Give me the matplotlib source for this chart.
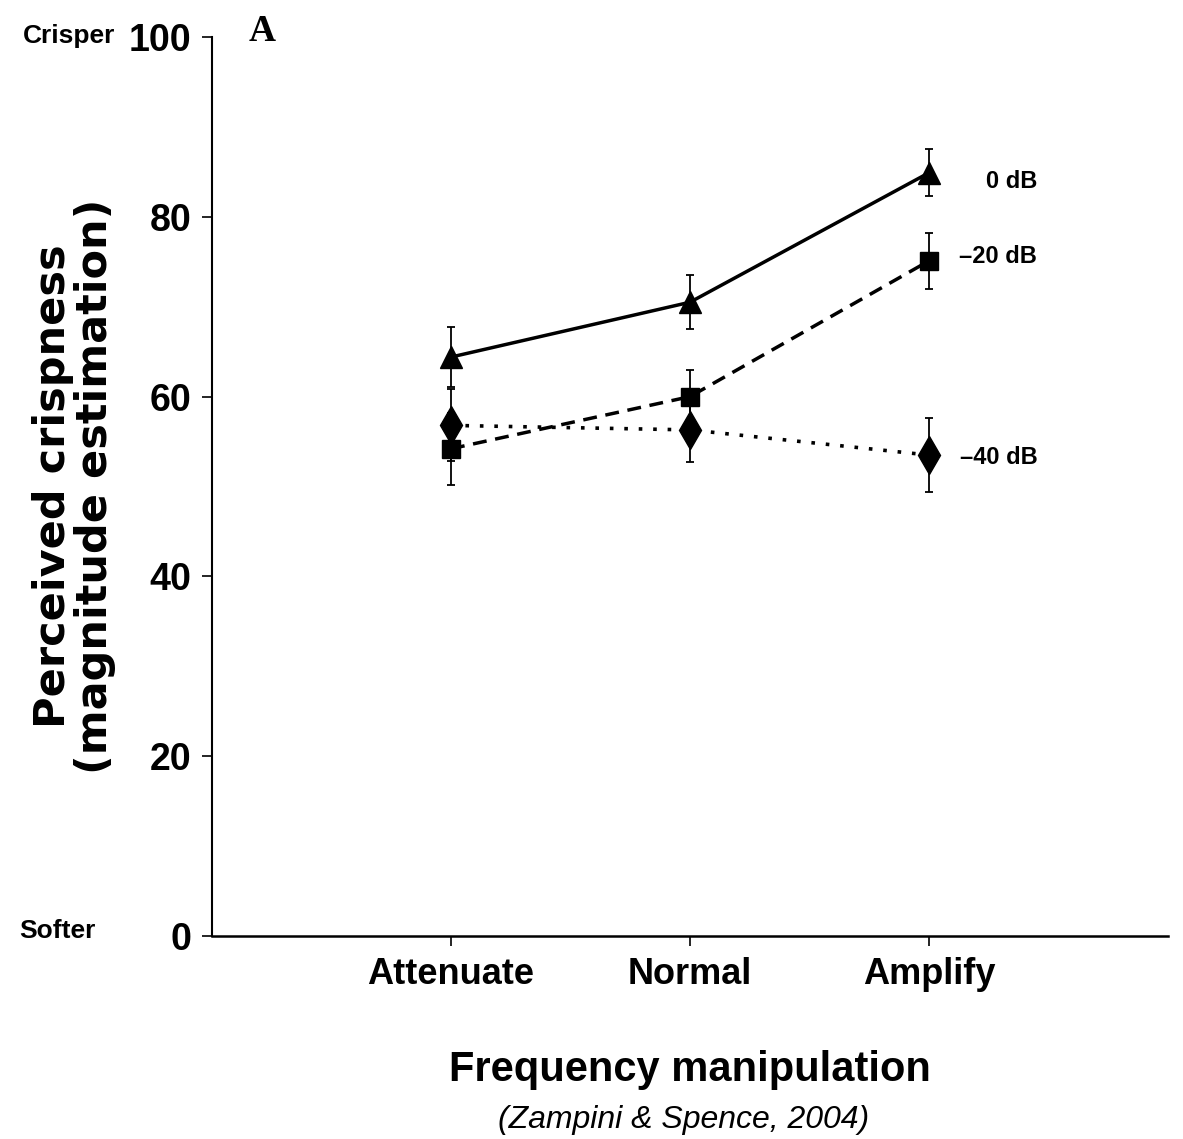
import matplotlib
matplotlib.use("Agg")
import matplotlib.pyplot as plt

# data
conditions = ["Attenuate", "Normal", "Amplify"]
x_pos = [1, 2, 3]

db0 = [64.4, 70.5, 84.9]
db0_err = [3.3, 3.0, 2.6]
db20 = [54.2, 60.0, 75.1]
db20_err = [4.0, 3.0, 3.1]
db40 = [56.8, 56.3, 53.5]
db40_err = [4.0, 3.6, 4.1]

series_labels = ["0 dB", "\u201320 dB", "\u201340 dB"]
label_shift = [-6, 3, -2]  # small vertical nudge of the end labels, points
yticks = [0, 20, 40, 60, 80, 100]

# "Liberation Sans" bold resolves to the narrow cut here
narrow = dict(family="Liberation Sans", fontweight="bold", fontstretch="condensed")

fig = plt.figure(figsize=(11.83, 11.39), dpi=100)
ax = fig.add_axes([0.1792, 0.1782, 0.8081, 0.7893])

err_kw = dict(color="black", ecolor="black", elinewidth=1.3, capsize=3, capthick=1.3)
ax.errorbar(x_pos, db0, yerr=db0_err, marker="^", markersize=16, linestyle="-", linewidth=2.5, **err_kw)
ax.errorbar(x_pos, db20, yerr=db20_err, marker="s", markersize=13, linestyle=(0, (4, 2.5)), linewidth=2.5, **err_kw)
ax.errorbar(x_pos, db40, yerr=db40_err, marker="d", markersize=19, linestyle=(0, (1, 3)), linewidth=2.6, **err_kw)

# series labels to the right of the last points
for vals, lab, dy in zip([db0, db20, db40], series_labels, label_shift):
    ax.annotate(lab, xy=(3, vals[-1]), xytext=(78, dy), textcoords="offset points",
                va="center", ha="right", fontsize=17, **narrow)

ax.set_xlim(0, 4)
ax.set_ylim(0, 100)
ax.set_xticks(x_pos)
ax.set_xticklabels(conditions, fontsize=26, **narrow)
ax.set_yticks(yticks)
ax.set_yticklabels([str(t) for t in yticks], fontsize=27, **narrow)
ax.tick_params(axis="both", direction="out", length=7, width=1.2, pad=8)

for s in ["top", "right"]:
    ax.spines[s].set_visible(False)
ax.spines["left"].set_linewidth(1.5)
ax.spines["bottom"].set_linewidth(1.8)

ax.set_ylabel("Perceived crispness\n(magnitude estimation)", fontsize=31, fontweight="bold",
              family="DejaVu Sans", linespacing=1.0, labelpad=9)
ax.set_xlabel("Frequency manipulation", fontsize=30, labelpad=42, **narrow)

fig.text(0.019, 0.968, "Crisper", fontsize=19, va="center", **narrow)
fig.text(0.016, 0.183, "Softer", fontsize=19, va="center", **narrow)
fig.text(0.21, 0.972, "A", fontsize=27, fontweight="bold", family=["Liberation Serif", "DejaVu Serif"], va="center")
fig.text(0.578, 0.017, "(Zampini & Spence, 2004)", fontsize=23, style="italic",
         family=["Liberation Sans", "DejaVu Sans"], ha="center", va="center")

fig.savefig("out.png", dpi=100)
